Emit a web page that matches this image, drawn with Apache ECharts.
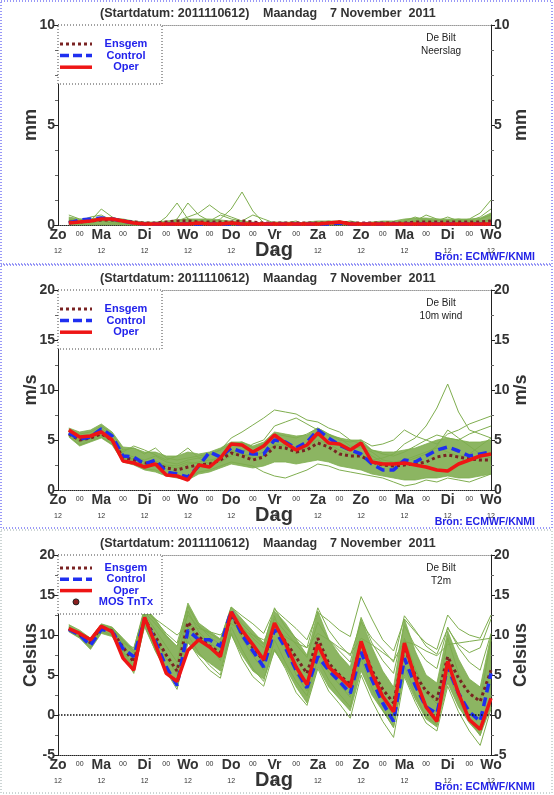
<!DOCTYPE html>
<html>
<head>
<meta charset="utf-8">
<script src="https://cdn.jsdelivr.net/npm/echarts@6/dist/echarts.min.js"></script>
<style>
  html, body { margin: 0; padding: 0; background: #fff; }
  #main { width: 554px; height: 795px; }
</style>
</head>
<body>
<div id="main"></div>
<script>
// uren na startdatum 2011110612
const HOURS = ['0','6','12','18','24','30','36','42','48','54','60','66','72','78','84','90','96','102','108','114','120',
  '126','132','138','144','150','156','162','168','174','180','186','192','198','204','210','216','222','228','234','240'];
const DAY_NAMES = ['Zo','Ma','Di','Wo','Do','Vr','Za','Zo','Ma','Di','Wo'];
const Y_TICKS = [[0, 10, 5], [0, 20, 5], [-5, 20, 5]];

// neerslag (mm)
const PREC_OPER = [0.1,0.15,0.2,0.3,0.3,0.2,0.1,0.05,0.05,0.05,0.05,0.05,0.1,0.05,0.05,0.1,0.05,0.05,0.05,0.05,
  0.05,0.05,0.05,0.05,0.1,0.15,0.05,0.05,0.05,0.05,0.05,0.05,0.05,0.05,0.05,0.05,0.05,0.05,0.05,0.05];
const PREC_CTRL = [0.1,0.25,0.3,0.35,0.3,0.2,0.1,0.05,0.05,0.05,0.05,0.05,0.05,0.05,0.05,0.05,0.05,0.05,0.05,0.05,
  0.05,0.05,0.05,0.05,0.05,0.1,0.05,0.05,0.05,0.05,0.05,0.05,0.05,0.05,0.05,0.05,0.05,0.05,0.05,0.05];
const PREC_MEAN = [0.15,0.15,0.2,0.25,0.25,0.2,0.15,0.1,0.1,0.15,0.2,0.2,0.15,0.15,0.15,0.15,0.2,0.15,0.1,0.1,
  0.1,0.1,0.1,0.1,0.1,0.15,0.1,0.1,0.1,0.1,0.1,0.1,0.15,0.15,0.15,0.15,0.15,0.15,0.15,0.2];
const PREC_LOW = [0,0,0,0,0,0,0,0,0,0,0,0,0,0,0,0,0,0,0,0,0,0,0,0,0,0,0,0,0,0,0,0,0,0,0,0,0,0,0,0];
const PREC_HIGH = [0.4,0.3,0.3,0.4,0.35,0.3,0.2,0.15,0.15,0.2,0.25,0.3,0.3,0.3,0.25,0.2,0.2,0.15,0.1,0.15,
  0.15,0.1,0.15,0.2,0.2,0.2,0.15,0.1,0.15,0.2,0.2,0.3,0.35,0.35,0.3,0.3,0.3,0.3,0.35,0.6];
const PREC_MEMBERS = [
  [0.2,0.1,0.1,0.2,0.1,0.1,0,0,0,0.1,0.2,0.3,0.2,0.1,0.3,0.8,1.65,0.7,0.1,0,0,0,0.1,0,0,0,0,0,0,0.1,0,0,0.1,0.2,0.1,0,0.1,0.2,0.1,0.3],
  [0.5,0.3,0.2,0.8,0.4,0.2,0.1,0,0,0.4,1.1,0.3,0.1,0.2,0.1,0,0,0.1,0,0.1,0,0,0,0.1,0.2,0.1,0,0,0.1,0,0,0.2,0.4,0.2,0.1,0.2,0.3,0.2,0.4,0.8],
  [0.3,0.2,0.4,0.5,0.2,0.1,0,0.1,0,0.1,0.3,1.1,0.5,0.2,0.5,0.3,0.2,0,0.1,0,0.1,0.2,0,0,0.1,0,0.1,0,0,0,0.1,0.1,0.2,0.5,0.3,0.2,0.2,0.3,0.6,1.25],
  [0.1,0.1,0.2,0.3,0.2,0,0,0,0.1,0,0.2,0.4,0.6,1.0,0.6,0.4,0.2,0.5,0.3,0.1,0,0,0.1,0.1,0,0.1,0.2,0.1,0,0,0,0,0.1,0.3,0.2,0.4,0.2,0.1,0.3,0.5]
];

// 10m wind (m/s)
const WIND_OPER = [6.0,5.3,5.4,5.8,5.0,2.9,2.7,2.3,2.6,1.5,1.4,1.0,2.5,2.3,3.2,4.6,4.5,3.8,4.4,5.5,
  4.7,4.0,4.5,5.7,4.7,4.6,4.0,4.7,2.8,2.6,2.6,2.7,2.5,2.3,2.0,1.9,2.6,3.0,3.4,3.6];
const WIND_CTRL = [5.7,5.1,5.3,6.1,5.4,3.4,3.3,2.6,3.0,1.8,1.6,1.3,2.4,3.8,3.3,4.2,3.8,3.6,3.6,5.0,
  4.8,4.2,4.8,6.0,5.2,4.5,4.0,3.6,2.6,2.0,2.0,3.0,2.8,3.4,4.0,4.3,3.9,3.4,3.6,3.8];
const WIND_MEAN = [5.6,5.0,5.2,5.6,5.0,3.3,3.0,2.7,2.6,2.2,2.0,2.3,2.5,2.6,3.0,3.7,3.4,3.0,3.3,4.3,
  4.2,3.8,4.0,4.7,4.3,3.6,3.4,3.4,2.8,2.5,2.4,2.5,2.6,2.8,3.3,3.5,3.3,3.1,3.0,3.0];
const WIND_LOW = [5.3,4.4,4.8,5.2,4.5,2.8,2.5,2.0,1.8,1.4,1.2,1.0,1.6,1.8,2.2,2.6,2.4,2.2,2.4,2.8,
  2.8,2.6,2.8,3.0,2.8,2.4,2.2,2.0,1.6,1.4,1.2,1.0,1.0,1.2,1.2,1.4,1.2,1.2,1.4,1.6];
const WIND_HIGH = [6.2,5.8,6.0,6.6,5.8,4.3,4.2,3.8,3.8,3.4,3.4,3.8,3.6,3.8,4.2,4.8,4.8,4.4,4.8,5.8,
  5.6,5.4,5.5,6.2,5.6,5.2,5.0,5.0,4.0,3.8,3.8,4.0,4.2,4.6,5.0,5.2,5.0,4.8,4.8,5.0];
const WIND_MEMBERS = [
  [5.8,5.0,5.5,6.2,5.3,3.6,3.3,3.0,3.4,2.8,2.6,3.0,3.2,3.5,4.0,5.2,5.8,6.5,7.2,8.0,7.8,7.6,7.0,6.8,6.2,5.8,5.0,4.6,4.0,3.6,3.4,3.8,4.4,5.0,5.5,5.2,5.0,5.6,6.0,6.4],
  [5.6,4.8,5.2,5.8,4.9,3.2,3.0,2.6,2.8,2.4,2.2,2.6,2.8,3.0,3.2,3.8,3.6,3.4,3.8,4.4,4.6,4.2,4.4,5.0,4.6,4.0,3.6,3.6,3.0,3.2,3.6,4.6,5.2,6.4,8.2,10.6,7.8,6.0,5.6,5.2],
  [5.4,4.5,4.9,5.3,4.6,2.9,2.6,2.1,2.0,1.6,1.4,1.2,1.8,2.0,2.4,2.8,2.6,2.4,1.8,1.4,1.2,1.6,2.0,2.6,2.4,2.0,1.8,1.6,1.4,1.2,0.8,0.4,0.6,1.0,0.8,1.2,1.0,0.8,1.2,1.6],
  [6.0,5.6,5.8,6.4,5.6,4.0,4.2,3.6,4.2,3.2,3.0,3.2,3.4,3.6,4.0,4.6,4.8,4.2,4.6,5.6,5.4,5.2,5.6,6.2,5.6,5.0,4.8,5.0,4.4,4.6,5.0,6.0,5.4,5.0,4.6,5.6,6.0,6.6,7.0,7.4],
  [5.5,4.9,5.1,5.5,4.8,3.8,4.4,4.0,3.5,3.0,3.4,4.2,3.2,2.6,2.8,3.4,3.8,4.6,5.0,6.4,6.8,7.2,6.6,6.0,5.4,5.2,4.4,4.2,3.8,3.0,2.8,3.0,3.4,3.8,4.2,3.8,3.4,3.6,4.4,5.2],
  [5.7,5.2,5.4,6.0,5.1,3.4,3.1,2.8,2.9,2.5,2.4,2.8,2.6,2.8,3.4,4.0,3.6,3.2,3.4,4.6,4.4,3.9,4.2,5.4,4.8,4.4,4.0,4.4,3.4,2.8,2.4,2.8,3.2,3.6,4.4,6.0,5.2,4.4,3.6,3.2]
];

// temperatuur 2m (Celsius)
const TEMP_OPER = [10.8,10.2,9.4,11.1,10.4,7.1,5.6,12.2,8.8,5.2,4.2,8.1,9.4,8.5,7.3,12.9,10.6,8.8,6.9,11.5,
  9.0,6.0,3.8,8.8,6.0,4.8,3.5,9.2,5.2,2.3,0.4,9.0,4.6,1.0,-0.8,6.7,2.7,-0.6,-1.8,2.1];
const TEMP_CTRL = [10.7,10.0,8.7,10.7,10.4,8.3,7.3,12.0,9.2,6.0,3.7,10.6,9.4,9.4,8.6,13.0,10.0,8.0,6.0,10.7,
  8.4,5.6,3.4,7.3,5.6,4.2,2.7,7.9,4.4,1.5,-0.8,7.1,3.7,1.0,0.2,6.0,2.7,0.4,-0.8,5.2];
const TEMP_MEAN = [10.8,10.0,9.0,11.0,10.5,8.5,6.6,12.0,9.8,7.5,5.5,11.6,9.8,8.6,7.8,12.5,10.2,8.4,6.8,11.2,
  9.2,7.2,5.2,9.6,6.5,5.0,3.8,9.0,5.6,3.2,1.5,8.4,5.0,3.0,1.9,7.3,4.6,2.7,1.7,5.6];
const TEMP_LOW = [10.4,9.6,8.2,10.2,9.8,7.5,5.4,11.0,8.0,5.5,3.5,9.0,7.5,6.5,5.5,10.0,7.5,5.5,4.5,8.0,
  6.0,3.5,1.5,6.0,3.5,2.0,0.5,5.5,2.5,0.5,-1.5,5.0,2.0,-0.5,-1.5,4.0,1.0,-1.0,-2.5,1.0];
const TEMP_HIGH = [11.3,10.6,9.6,11.4,11.0,9.6,8.2,13.5,12.0,10.0,8.5,14.0,11.5,10.5,9.5,13.5,12.0,10.5,9.0,13.0,
  11.5,9.5,7.5,13.0,9.5,7.5,6.0,12.0,8.5,5.5,3.5,12.0,8.0,5.0,4.0,10.5,7.0,4.5,3.5,10.0];
const TEMP_MEMBERS = [
  [10.9,10.2,9.3,11.2,10.8,9.2,7.8,12.8,11.4,9.8,8.6,12.5,11.0,10.2,9.4,13.5,12.4,11.4,10.2,13.2,12.0,10.8,9.4,12.8,11.8,10.6,9.8,14.8,12.0,9.4,8.0,12.0,10.4,9.0,8.2,12.5,10.8,10.0,9.6,12.5],
  [10.5,9.7,8.4,10.4,9.9,7.6,5.2,11.2,8.0,5.4,3.2,9.2,7.2,5.6,4.6,10.2,7.0,4.8,3.6,8.2,5.8,2.8,1.2,5.8,3.0,1.4,-0.4,5.0,1.8,-0.8,-2.8,4.8,1.6,-1.0,-2.0,3.6,0.4,-2.0,-3.8,0.8],
  [10.7,10.1,8.9,10.9,10.6,8.8,7.0,12.6,10.6,8.6,6.6,13.0,10.4,9.0,8.0,12.2,11.0,9.6,8.4,12.0,10.4,8.8,7.2,11.6,9.4,8.0,6.6,12.2,9.0,6.8,5.2,11.2,8.6,6.8,5.8,11.0,8.4,6.6,5.6,10.2],
  [10.8,10.0,9.0,11.0,10.2,8.0,6.0,12.4,9.4,7.0,5.2,11.0,9.8,8.6,6.8,12.4,9.6,7.4,5.6,12.4,8.4,5.0,3.0,8.0,5.4,3.8,2.2,7.6,4.6,1.8,0.0,9.6,5.8,2.8,1.4,9.6,5.2,2.6,1.8,9.4],
  [10.6,10.0,9.0,11.0,10.4,9.0,8.4,13.0,12.0,11.0,10.0,11.2,10.8,10.4,10.0,11.4,10.6,10.0,9.4,10.6,9.8,9.0,8.4,10.2,9.4,8.4,7.6,9.6,8.8,7.8,6.8,9.2,8.8,8.0,7.4,8.8,9.0,9.2,9.4,9.6],
  [11.0,10.4,9.6,11.3,10.9,9.4,8.0,13.2,11.8,10.2,9.0,13.6,11.2,9.8,8.8,13.0,11.4,10.0,8.8,13.4,11.0,9.6,8.4,13.4,10.6,8.8,7.4,11.6,9.6,8.2,6.6,12.4,10.6,8.6,7.6,10.8,8.8,7.8,8.4,12.0],
  [10.6,9.8,8.5,10.6,10.0,7.8,5.8,11.6,8.6,5.8,4.0,10.0,7.8,6.2,5.0,11.0,8.2,5.8,4.2,9.4,6.6,4.2,2.4,7.0,4.4,2.6,1.0,7.0,3.4,0.6,-1.6,6.2,2.6,-0.2,-1.2,5.4,1.8,-0.6,-2.6,2.4]
];

const FONT = "'Liberation Sans', Arial, sans-serif";
const GREEN = '#7fae4f';
const BAND = '#8cb562';
const RED = '#ee1515';
const BLUE = '#1f2ff0';
const MEAN = '#7a2323';
const TEXT = '#333';
const TOPS = [25, 290, 555];
const PANELS = [
  { name: 'mm', minor: 4, label: 'Neerslag', oper: PREC_OPER, ctrl: PREC_CTRL, mean: PREC_MEAN, low: PREC_LOW, high: PREC_HIGH, members: PREC_MEMBERS },
  { name: 'm/s', minor: 2, label: '10m wind', oper: WIND_OPER, ctrl: WIND_CTRL, mean: WIND_MEAN, low: WIND_LOW, high: WIND_HIGH, members: WIND_MEMBERS },
  { name: 'Celsius', minor: 2, label: 'T2m', oper: TEMP_OPER, ctrl: TEMP_CTRL, mean: TEMP_MEAN, low: TEMP_LOW, high: TEMP_HIGH, members: TEMP_MEMBERS }
];

const pad = (arr) => [null].concat(arr);

function xLabel(value) {
  const h = +value;
  if (h % 24 === 0) return '{d|' + DAY_NAMES[h / 24] + '}\n{s|12}';
  return '{z|00}';
}

const grid = [], xAxis = [], yAxis = [], series = [], graphic = [];

PANELS.forEach((p, gi) => {
  const top = TOPS[gi];
  grid.push({ left: 58, top: top, width: 433, height: 200 });
  xAxis.push({
    type: 'category', gridIndex: gi, data: HOURS, boundaryGap: false,
    axisLine: { onZero: false, lineStyle: { color: '#222', type: 'dotted', width: 1 } },
    axisTick: { show: false },
    axisLabel: {
      interval: 1, margin: 3, formatter: xLabel, showMinLabel: true, showMaxLabel: true,
      rich: {
        d: { fontFamily: FONT, fontSize: 14, fontWeight: 'bold', color: TEXT, lineHeight: 15 },
        s: { fontFamily: FONT, fontSize: 7, color: TEXT, lineHeight: 17 },
        z: { fontFamily: FONT, fontSize: 7, color: TEXT, lineHeight: 13 }
      }
    },
    splitLine: { show: false }
  });
  xAxis.push({
    type: 'category', gridIndex: gi, data: HOURS, boundaryGap: false, position: 'top',
    axisLine: { onZero: false, lineStyle: { color: '#999', type: 'dotted', width: 1 } },
    axisTick: { show: false }, axisLabel: { show: false }, splitLine: { show: false }
  });
  const [min, max, interval] = Y_TICKS[gi];
  ['left', 'right'].forEach((pos) => {
    yAxis.push({
      type: 'value', gridIndex: gi, position: pos, min: min, max: max, interval: interval,
      axisLine: { show: true, onZero: false, lineStyle: { color: '#222', width: 1 } },
      axisTick: { show: true, length: 4, lineStyle: { color: '#222' } },
      minorTick: { show: true, splitNumber: p.minor, length: 3, lineStyle: { color: '#666' } },
      axisLabel: { margin: 3, fontFamily: FONT, fontSize: 14, fontWeight: 'bold', color: TEXT },
      splitLine: { show: false },
      name: p.name, nameLocation: 'middle', nameRotate: 90, nameMoveOverlap: false,
      nameGap: pos === 'left' ? 18 : 21,
      nameTextStyle: { fontFamily: FONT, fontSize: 18, fontWeight: 'bold', color: TEXT }
    });
  });

  const xi = gi * 2, yi = gi * 2;
  const base = { type: 'line', xAxisIndex: xi, yAxisIndex: yi, symbol: 'none', silent: true, animation: false };
  // dichte pluim van de ensembleleden
  series.push(Object.assign({}, base, {
    stack: 'band' + gi, stackStrategy: 'all', data: pad(p.low),
    lineStyle: { width: 0.8, color: GREEN }
  }));
  series.push(Object.assign({}, base, {
    stack: 'band' + gi, stackStrategy: 'all',
    data: pad(p.high.map((v, i) => +(v - p.low[i]).toFixed(2))),
    lineStyle: { width: 0.8, color: GREEN }, areaStyle: { color: BAND, opacity: 1 }
  }));
  p.members.forEach((m) => {
    series.push(Object.assign({}, base, { data: pad(m), lineStyle: { width: 1, color: GREEN } }));
  });
  const zeroLine = gi === 2 ? {
    markLine: { silent: true, symbol: 'none', label: { show: false },
      lineStyle: { color: '#111', type: 'dotted', width: 1.5 }, data: [{ yAxis: 0 }] }
  } : {};
  series.push(Object.assign({}, base, zeroLine, { data: pad(p.mean), lineStyle: { width: 3, color: MEAN, type: [3, 3] }, z: 3 }));
  series.push(Object.assign({}, base, { data: pad(p.ctrl), lineStyle: { width: 3.5, color: BLUE, type: [9, 5] }, z: 4 }));
  series.push(Object.assign({}, base, { data: pad(p.oper), lineStyle: { width: 3.5, color: RED }, z: 5 }));

  // teksten en legenda
  const titleFont = 'bold 12.5px ' + FONT;
  graphic.push({ type: 'text', x: 100, y: top - 11,
    style: { text: '(Startdatum: 2011110612)', font: titleFont, fill: TEXT, verticalAlign: 'middle' } });
  graphic.push({ type: 'text', x: 263, y: top - 11,
    style: { text: 'Maandag', font: titleFont, fill: TEXT, verticalAlign: 'middle' } });
  graphic.push({ type: 'text', x: 330, y: top - 11,
    style: { text: '7 November  2011', font: titleFont, fill: TEXT, verticalAlign: 'middle' } });
  graphic.push({ type: 'text', x: 441, y: top + 20,
    style: { text: 'De Bilt\n' + p.label, font: '10px ' + FONT, fill: '#222', align: 'center', verticalAlign: 'middle', lineHeight: 13 } });
  graphic.push({ type: 'text', x: 274, y: top + 225,
    style: { text: 'Dag', font: 'bold 20px ' + FONT, fill: TEXT, align: 'center', verticalAlign: 'middle' } });
  graphic.push({ type: 'text', x: 535, y: top + 232,
    style: { text: 'Bron: ECMWF/KNMI', font: 'bold 10.5px ' + FONT, fill: '#2222e6', align: 'right', verticalAlign: 'middle' } });
  const rows = gi === 2 ? ['Ensgem', 'Control', 'Oper', 'MOS TnTx'] : ['Ensgem', 'Control', 'Oper'];
  graphic.push({ type: 'rect', shape: { x: 58, y: top, width: 104, height: 59 },
    style: { fill: '#fff', stroke: '#444', lineWidth: 1, lineDash: [1, 2] }, z: 10 });
  const r0 = gi === 2 ? top + 13 : top + 19;
  const dy = gi === 2 ? 11.3 : 11.6;
  rows.forEach((txt, k) => {
    const y = r0 + k * dy;
    graphic.push({ type: 'text', x: 126, y: y,
      style: { text: txt, font: 'bold 11px ' + FONT, fill: '#2323ec', align: 'center', verticalAlign: 'middle' }, z: 11 });
    if (k === 0) graphic.push({ type: 'line', shape: { x1: 60, y1: y, x2: 92, y2: y }, style: { stroke: MEAN, lineWidth: 3, lineDash: [3, 3] }, z: 11 });
    if (k === 1) graphic.push({ type: 'line', shape: { x1: 60, y1: y, x2: 92, y2: y }, style: { stroke: BLUE, lineWidth: 3.5, lineDash: [9, 4] }, z: 11 });
    if (k === 2) graphic.push({ type: 'line', shape: { x1: 60, y1: y, x2: 92, y2: y }, style: { stroke: RED, lineWidth: 3.5 }, z: 11 });
    if (k === 3) graphic.push({ type: 'circle', shape: { cx: 76, cy: y, r: 3 }, style: { fill: '#8a1f1f', stroke: '#222', lineWidth: 1 }, z: 11 });
  });
});

// kaders rond de panelen
[[1, 1, 551, 263], [1, 265, 551, 263], [1, 530, 551, 263]].forEach((r, k) => {
  graphic.push({ type: 'rect', shape: { x: r[0], y: r[1], width: r[2], height: r[3] },
    style: { fill: 'none', stroke: k === 2 ? '#9aa' : '#3333ee', lineWidth: 1, lineDash: [1, 2] }, z: 0 });
});

const chart = echarts.init(document.getElementById('main'));
chart.setOption({
  animation: false,
  backgroundColor: '#fff',
  grid: grid,
  xAxis: xAxis,
  yAxis: yAxis,
  series: series,
  graphic: graphic
});
</script>
</body>
</html>
